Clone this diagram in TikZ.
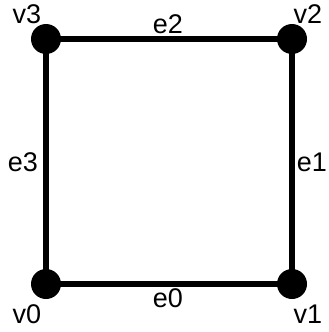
\documentclass[tikz,border=0pt]{standalone}
\usepackage{fontspec}
\setmainfont{Liberation Sans}
\begin{document}
\begin{tikzpicture}[x=1pt,y=-1pt,
  vert/.style={circle,fill=black,inner sep=0pt,minimum size=30pt},
  edge/.style={line width=6pt},
  lab/.style={font=\fontsize{27}{27}\selectfont,inner sep=0pt,anchor=center}]
\useasboundingbox (0,0) rectangle (329,332);
\node[vert] (v0) at (46,284) {};
\node[vert] (v1) at (292,284) {};
\node[vert] (v2) at (292,39) {};
\node[vert] (v3) at (46,39) {};
\draw[edge] (v0.center) -- (v1.center) -- (v2.center) -- (v3.center) -- cycle;
\node[lab] (l0) at (27,314) {v0};
\node[lab] (l1) at (308,314) {v1};
\node[lab] (l2) at (308,14) {v2};
\node[lab] (l3) at (27,14) {v3};
\node[lab] (le0) at (168,298) {e0};
\node[lab] (le1) at (312,162) {e1};
\node[lab] (le2) at (168,24) {e2};
\node[lab] (le3) at (23,162) {e3};
\end{tikzpicture}
\end{document}
